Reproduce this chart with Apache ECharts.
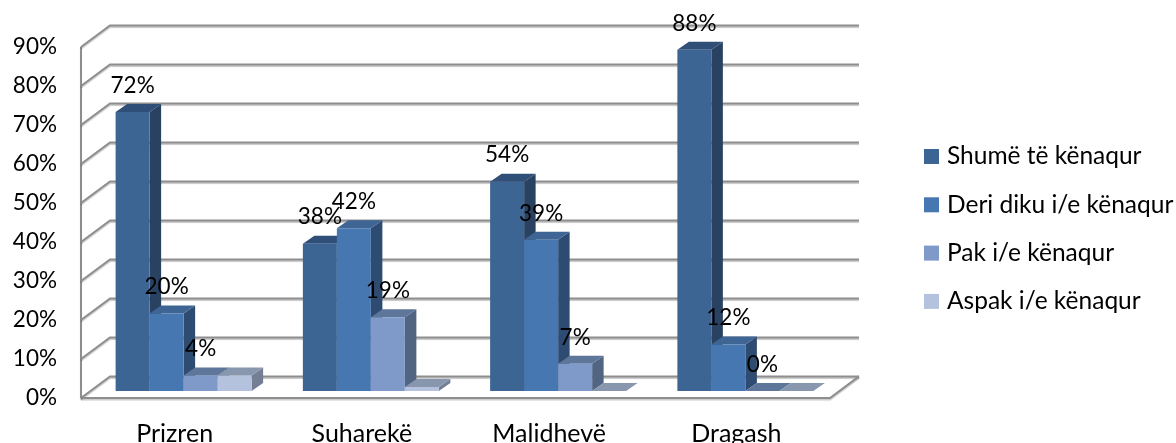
<!DOCTYPE html>
<html>
<head>
<meta charset="utf-8">
<style>html,body{margin:0;padding:0;background:#fff}#chart{width:1176px;height:443px}</style>
<script src="https://cdn.jsdelivr.net/npm/echarts@6/dist/echarts.min.js"></script>
</head>
<body>
<div id="chart"></div>
<script>
const categories = ['Prizren', 'Suharekë', 'Malidhevë', 'Dragash'];
const seriesNames = ['Shumë të kënaqur', 'Deri diku i/e kënaqur', 'Pak i/e kënaqur', 'Aspak i/e kënaqur'];
const shume = [72, 38, 54, 88];
const deriDiku = [20, 42, 39, 12];
const pak = [4, 19, 7, 0];
const aspak = [4, 1, 0, 0];
const axisTicks = [0, 10, 20, 30, 40, 50, 60, 70, 80, 90];
const valueRows = [shume, deriDiku, pak, aspak];

// front, side and top face colours per series
const faceColors = [
  ['#3d6594', '#2a4262', '#2f4e78'],
  ['#4777b0', '#2e4b72', '#3f6595'],
  ['#7f9ac8', '#516481', '#5d7699'],
  ['#b4c2de', '#747f95', '#8896ae']
];
const labelledSeries = 3;
const FONT = 'Lato, "Open Sans", sans-serif';
const TEXT_SIZE = 25;
const LEGEND_SIZE = 24.5;
const NUMBER_SIZE = 22.5;
const wallDepth = [29, -21.6];
const plane = [9, -7];
const planeScale = 0.994;
const barDepth = [11.5, -8];
const barRatio = 0.1816;
const lineStyle = {
  fill: 'none', stroke: '#8e8e8e', lineWidth: 2,
  shadowColor: 'rgba(0,0,0,0.22)', shadowBlur: 1, shadowOffsetY: 1.5
};

function renderWall(params, api) {
  const cs = params.coordSys;
  const y = api.coord([0, api.value(0)])[1];
  const xl = cs.x, xr = cs.x + cs.width;
  const pts = [[xl, y], [xl + wallDepth[0], y + wallDepth[1]], [xr + wallDepth[0], y + wallDepth[1]]];
  const children = [{ type: 'polyline', shape: { points: pts }, style: lineStyle }];
  if (api.value(0) === axisTicks[0]) {
    // floor edge and the vertical left wall edge
    children.push({
      type: 'polyline',
      shape: { points: [[xl, y], [xr, y], [xr + wallDepth[0], y + wallDepth[1]]] },
      style: lineStyle
    });
    children.push({
      type: 'polyline',
      shape: { points: [[xl, cs.y], [xl, y]] },
      style: lineStyle
    });
  }
  return { type: 'group', children };
}

function barRenderer(si) {
  return function (params, api) {
    const value = api.value(1);
    const c = api.coord([api.value(0), 0]);
    const band = api.size([1, 0])[0];
    const bw = band * barRatio;
    const x0 = c[0] + plane[0] - 2 * bw + si * bw;
    const x1 = x0 + bw;
    const yBase = c[1] + plane[1];
    const yTop = yBase - (c[1] - api.coord([api.value(0), value])[1]) * planeScale;
    const [dx, dy] = barDepth;
    const [front, side, top] = faceColors[si];
    const children = [
      { type: 'polygon', shape: { points: [[x1, yBase], [x1 + dx, yBase + dy], [x1 + dx, yTop + dy], [x1, yTop]] }, style: { fill: side } },
      { type: 'polygon', shape: { points: [[x0, yTop], [x0 + dx, yTop + dy], [x1 + dx, yTop + dy], [x1, yTop]] }, style: { fill: top } },
      { type: 'rect', shape: { x: x0, y: yTop, width: bw, height: yBase - yTop }, style: { fill: front } }
    ];
    if (si < labelledSeries) {
      children.push({
        type: 'text', z2: 100,
        style: {
          x: x0 + bw / 2, y: yTop - 26.5, text: value + '%',
          textAlign: 'center', textVerticalAlign: 'middle',
          font: NUMBER_SIZE + 'px ' + FONT, fill: '#000'
        }
      });
    }
    return { type: 'group', children };
  };
}

const chart = echarts.init(document.getElementById('chart'), null, { renderer: 'canvas' });
chart.setOption({
  animation: false,
  backgroundColor: '#fff',
  grid: { left: 81, top: 47, width: 749, height: 351, containLabel: false, outerBoundsMode: 'none' },
  legend: {
    orient: 'vertical', left: 924, top: 144, padding: 0,
    data: seriesNames, icon: 'rect', itemWidth: 15, itemHeight: 15, itemGap: 23.3,
    selectedMode: false,
    textStyle: { fontFamily: FONT, fontSize: LEGEND_SIZE, color: '#000', padding: [0, 0, 0, 3] }
  },
  xAxis: {
    type: 'category', data: categories,
    axisLine: { show: false }, axisTick: { show: false }, splitLine: { show: false },
    axisLabel: { margin: 23, fontFamily: FONT, fontSize: TEXT_SIZE, color: '#000' }
  },
  yAxis: {
    type: 'value', min: 0, max: 90, interval: 10,
    axisLine: { show: false }, axisTick: { show: false }, splitLine: { show: false },
    axisLabel: { margin: 24, formatter: '{value}%', fontFamily: FONT, fontSize: NUMBER_SIZE, color: '#000', padding: [4, 0, 0, 0] }
  },
  series: [
    {
      type: 'custom', name: 'walls', renderItem: renderWall, clip: false, silent: true, z: 1,
      encode: { y: 0 }, data: axisTicks.map(t => [t])
    }
  ].concat(valueRows.map((row, si) => ({
    type: 'custom', name: seriesNames[si], renderItem: barRenderer(si), clip: false, z: 2,
    itemStyle: { color: faceColors[si][0] },
    encode: { x: 0, y: 1 },
    data: row.map((v, ci) => [ci, v])
  })))
});
</script>
</body>
</html>
